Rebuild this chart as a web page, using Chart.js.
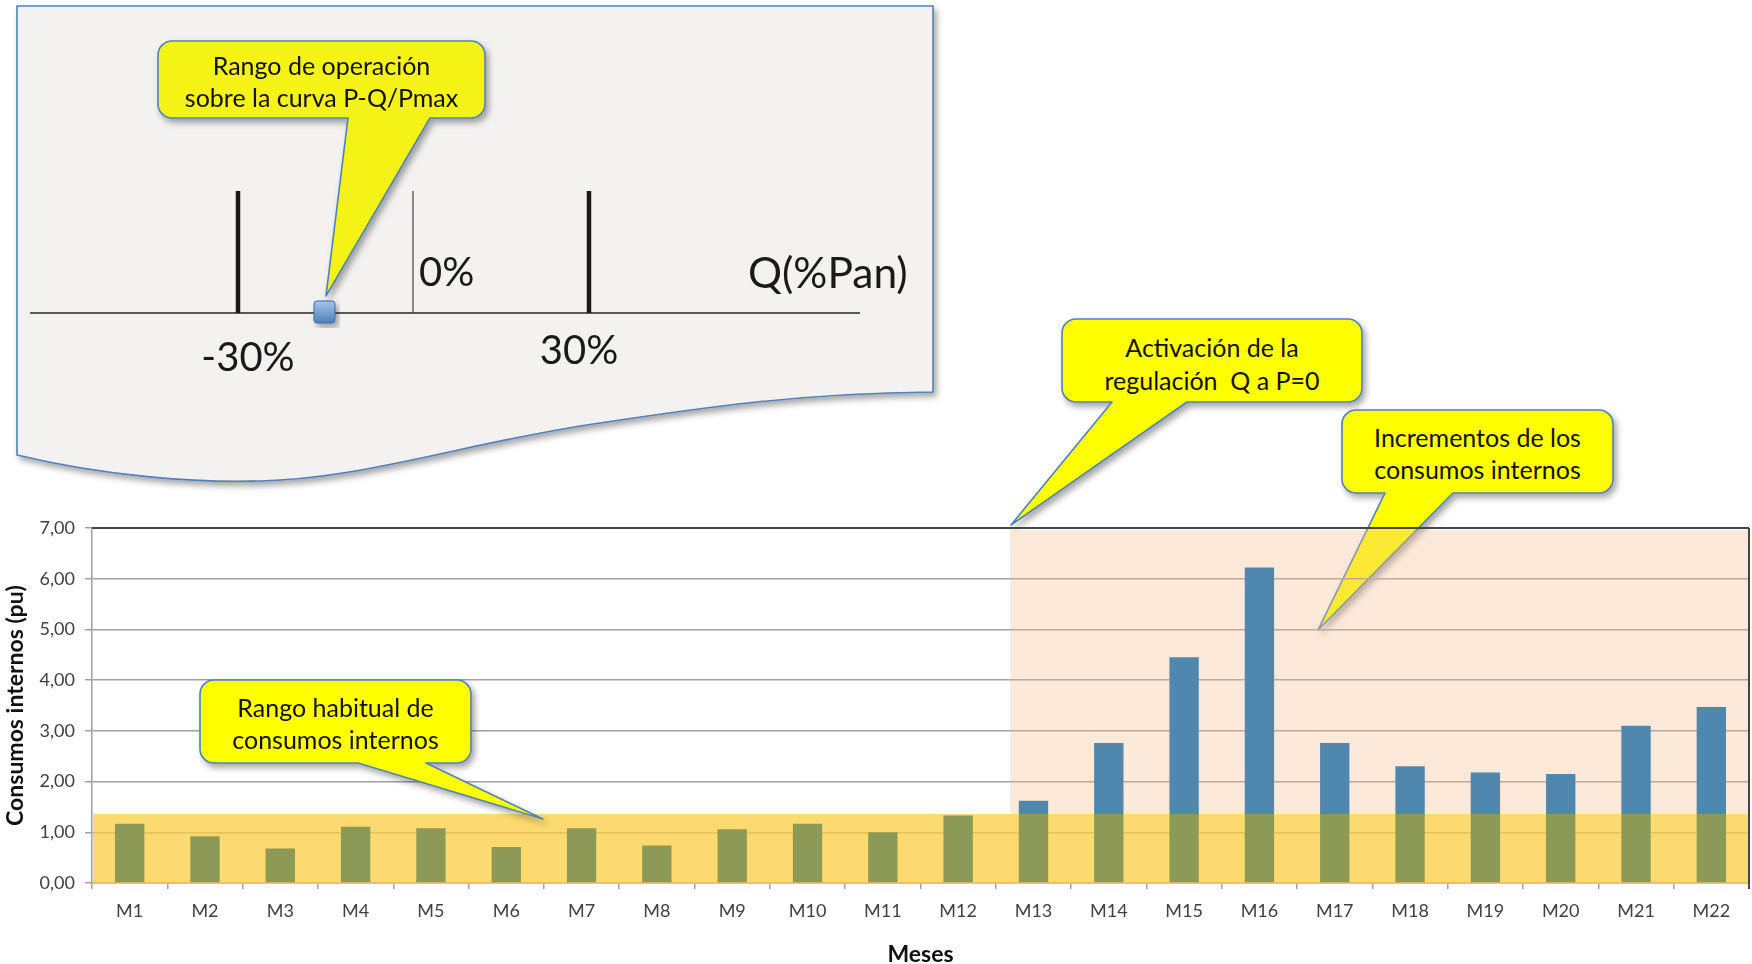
<!DOCTYPE html>
<html lang="es">
<head>
  <meta charset="UTF-8">
  <title>Consumos internos por mes</title>
  <script src="https://cdn.jsdelivr.net/npm/chart.js"></script>
  <style>
    body {
      margin: 0;
      background: #fff;
      font-family: 'Lato', sans-serif;
    }
    #lienzo {
      position: relative;
      width: 1752px;
      height: 964px;
      overflow: hidden;
    }
    #lienzo svg, #caja {
      position: absolute;
      left: 0;
      top: 0;
      width: 1752px;
      height: 964px;
    }
    #lienzo svg text {
      font-family: 'Lato', sans-serif;
      white-space: pre;
    }
  </style>
</head>
<body>
  <div id="lienzo">
    <svg id="fondo" width="1752" height="964"></svg>
    <div id="caja"><canvas id="grafico"></canvas></div>
    <svg id="frente" width="1752" height="964"></svg>
  </div>

  <script>
    // datos
    const meses = ['M1', 'M2', 'M3', 'M4', 'M5', 'M6', 'M7', 'M8', 'M9', 'M10', 'M11',
                   'M12', 'M13', 'M14', 'M15', 'M16', 'M17', 'M18', 'M19', 'M20', 'M21', 'M22'];
    const consumos = [1.17, 0.92, 0.68, 1.11, 1.08, 0.71, 1.08, 0.74, 1.06, 1.17, 1.00,
                      1.33, 1.62, 2.76, 4.45, 6.22, 2.76, 2.30, 2.18, 2.15, 3.10, 3.47];
    const ticksY = [0, 1, 2, 3, 4, 5, 6, 7];
    const rangoHabitual = 1.36;   // limite superior de la banda amarilla (pu)
    const inicioZona = 11.69;     // indice de categoria donde empieza la zona rosada

    const azul = '#5087af';
    const oliva = '#8d9a55';
    const gris = '#a0a0a0';

    // --- globos de texto (SVG) ---
    const NS = 'http://www.w3.org/2000/svg';

    function el(tag, attrs, padre) {
      const e = document.createElementNS(NS, tag);
      for (const k in attrs) e.setAttribute(k, attrs[k]);
      padre.appendChild(e);
      return e;
    }

    function defs(svg) {
      const d = el('defs', {}, svg);
      const f = el('filter', {id: svg.id + 'Sombra', x: '-20%', y: '-20%', width: '140%', height: '140%'}, d);
      el('feDropShadow', {dx: 3, dy: 4, stdDeviation: 3, 'flood-color': '#000', 'flood-opacity': 0.35}, f);
      const g = el('linearGradient', {id: svg.id + 'Cuadro', x1: 0, y1: 0, x2: 0, y2: 1}, d);
      el('stop', {offset: 0, 'stop-color': '#a9c4ea'}, g);
      el('stop', {offset: 1, 'stop-color': '#4f81bd'}, g);
    }

    function globo(svg, g) {
      const {x, y, w, h, r, b1, b2, px, py} = g;
      const d = `M${x + r},${y} H${x + w - r} A${r},${r} 0 0 1 ${x + w},${y + r} V${y + h - r} ` +
                `A${r},${r} 0 0 1 ${x + w - r},${y + h} H${b2} L${px},${py} L${b1},${y + h} H${x + r} ` +
                `A${r},${r} 0 0 1 ${x},${y + h - r} V${y + r} A${r},${r} 0 0 1 ${x + r},${y} Z`;
      el('path', {d, fill: g.color || '#ffff00', stroke: '#4f81bd', 'stroke-width': 1.6,
                  'stroke-linejoin': 'round', filter: `url(#${svg.id}Sombra)`}, svg);
      g.texto.forEach((t, i) => {
        const tx = el('text', {x: x + w / 2, y: g.ty[i], 'text-anchor': 'middle',
                               'dominant-baseline': 'central', 'font-size': 25, fill: '#111'}, svg);
        tx.textContent = t;
      });
    }

    const fondo = document.getElementById('fondo');
    const frente = document.getElementById('frente');
    defs(fondo);
    defs(frente);

    // recuadro con la curva P-Q/Pmax
    el('path', {
      d: 'M17,6 H933 V392 C800,393 700,408 600,423 C480,440 380,474 280,480 C200,485 100,475 17,455 Z',
      fill: '#f3f2f1', stroke: '#4f81bd', 'stroke-width': 1.6, filter: 'url(#frenteSombra)'
    }, frente);
    el('line', {x1: 30, y1: 313, x2: 860, y2: 313, stroke: '#595959', 'stroke-width': 2}, frente);
    el('line', {x1: 238, y1: 191, x2: 238, y2: 313, stroke: '#1a1a1a', 'stroke-width': 4.5}, frente);
    el('line', {x1: 589, y1: 191, x2: 589, y2: 313, stroke: '#1a1a1a', 'stroke-width': 4.5}, frente);
    el('line', {x1: 413, y1: 191, x2: 413, y2: 313, stroke: '#404040', 'stroke-width': 1.2}, frente);
    [['-30%', 248, 371, 'middle', 40], ['30%', 579, 364, 'middle', 40],
     ['0%', 419, 286, 'start', 40], ['Q(%Pan)', 748, 288, 'start', 42.5]].forEach(([t, x, y, a, s]) => {
      el('text', {x, y, 'text-anchor': a, 'font-size': s, fill: '#1a1a1a'}, frente).textContent = t;
    });
    el('rect', {x: 314, y: 301, width: 21, height: 22, rx: 3, fill: 'url(#frenteCuadro)',
                stroke: '#3a6aa8', 'stroke-width': 1, filter: 'url(#frenteSombra)'}, frente);

    globo(frente, {x: 158, y: 41, w: 327, h: 77, r: 14, b1: 348, b2: 430, px: 326, py: 296,
                   color: '#f5f318', texto: ['Rango de operación', 'sobre la curva P-Q/Pmax'], ty: [65, 97]});
    globo(fondo, {x: 1062, y: 319, w: 300, h: 83, r: 14, b1: 1112, b2: 1187, px: 1011, py: 525,
                  texto: ['Activación de la', 'regulación  Q a P=0'], ty: [347, 380]});
    globo(fondo, {x: 1342, y: 410, w: 271, h: 83, r: 14, b1: 1385, b2: 1453, px: 1318, py: 630,
                  texto: ['Incrementos de los', 'consumos internos'], ty: [437, 469]});
    globo(frente, {x: 200, y: 680, w: 271, h: 83, r: 14, b1: 358, b2: 426, px: 543, py: 819,
                   texto: ['Rango habitual de', 'consumos internos'], ty: [707, 739]});

    // --- grafico ---
    const zonas = {
      id: 'zonas',
      beforeDatasetsDraw(chart) {
        const {ctx, chartArea: a, scales: {x, y}} = chart;
        const paso = x.getPixelForValue(1) - x.getPixelForValue(0);
        const x0 = x.getPixelForValue(0) + inicioZona * paso;
        const yb = y.getPixelForValue(rangoHabitual);
        ctx.save();
        ctx.fillStyle = 'rgba(246,190,148,0.34)';
        ctx.fillRect(x0, a.top + 2, a.right - x0, yb - a.top - 2);
        ctx.fillStyle = 'rgba(252,206,64,0.75)';
        ctx.fillRect(a.left + 1, yb, a.right - a.left - 1, a.bottom - yb + 1);
        ctx.restore();
      },
      afterDraw(chart) {
        const {ctx, chartArea: a} = chart;
        ctx.save();
        ctx.strokeStyle = '#454545';
        ctx.lineWidth = 2;
        ctx.beginPath();
        ctx.moveTo(a.left, a.top);
        ctx.lineTo(a.right, a.top);
        ctx.moveTo(a.right, a.top);
        ctx.lineTo(a.right, a.bottom + 6);
        ctx.stroke();
        ctx.restore();
      }
    };

    function colorBarra(c) {
      const chart = c.chart;
      if (!chart.chartArea) return azul;
      const y = chart.scales.y;
      const y0 = y.getPixelForValue(0);
      const yl = y.getPixelForValue(rangoHabitual);
      const g = chart.ctx.createLinearGradient(0, y0, 0, y.top);
      const f = (y0 - yl) / (y0 - y.top);
      g.addColorStop(0, oliva);
      g.addColorStop(f, oliva);
      g.addColorStop(f, azul);
      g.addColorStop(1, azul);
      return g;
    }

    document.fonts.load('16px Lato').then(() => document.fonts.load('bold 16px Lato')).then(() => {
      Chart.defaults.font.family = 'Lato';
      new Chart(document.getElementById('grafico'), {
        type: 'bar',
        data: {
          labels: meses,
          datasets: [{
            label: 'Consumos internos',
            data: consumos,
            backgroundColor: colorBarra,
            barPercentage: 0.39,
            categoryPercentage: 1
          }]
        },
        options: {
          responsive: true,
          maintainAspectRatio: false,
          animation: false,
          layout: {padding: {left: 0, top: 528, right: 3, bottom: 0}},
          plugins: {legend: {display: false}, tooltip: {enabled: false}},
          scales: {
            x: {
              grid: {drawOnChartArea: false, offset: true, tickLength: 6, color: gris, lineWidth: 1.5},
              border: {color: gris, width: 1.5},
              ticks: {color: '#404040', font: {size: 18}, padding: 11},
              title: {display: true, text: 'Meses', color: '#111',
                      font: {size: 23, weight: 'bold'}, padding: {top: 8, bottom: -4}},
              afterFit: s => { s.height = 81; }
            },
            y: {
              min: 0,
              max: 7,
              afterBuildTicks: s => { s.ticks = ticksY.map(v => ({value: v})); },
              grid: {color: gris, lineWidth: 1.5, tickLength: 7},
              border: {color: gris, width: 1.5},
              ticks: {color: '#404040', font: {size: 18}, padding: 10,
                      callback: v => v.toFixed(2).replace('.', ',')},
              title: {display: true, text: 'Consumos internos (pu)', color: '#111',
                      font: {size: 23, weight: 'bold'}, padding: {top: 2, bottom: 4}},
              afterFit: s => { s.width = 92; }
            }
          }
        },
        plugins: [zonas]
      });
    });
  </script>
</body>
</html>
